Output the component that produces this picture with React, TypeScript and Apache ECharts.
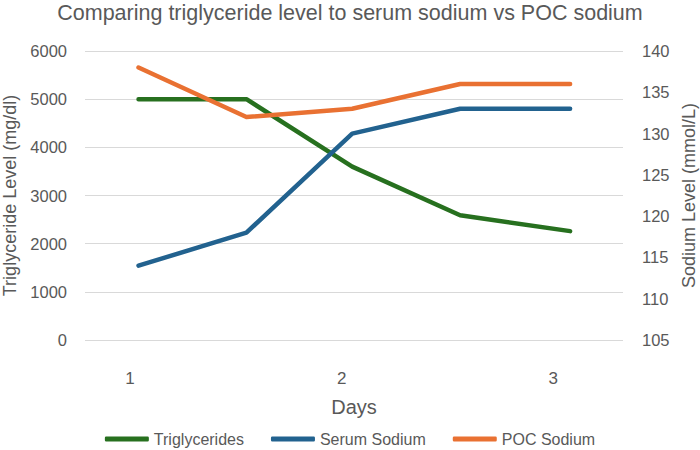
import React, { useEffect, useRef } from "react";
import * as echarts from "echarts";

const days = [1.04, 1.55, 2.05, 2.56, 3.08];
const triglycerides = [5000, 5000, 3600, 2590, 2260];
const serumSodium = [114, 118, 130, 133, 133];
const pocSodium = [138, 132, 133, 136, 136];
const dayTicks = [1, 2, 3];

const FONT = "Liberation Sans";
const GREY = "#595959";

export default function App() {
  const ref = useRef<HTMLDivElement>(null);
  useEffect(() => {
    if (!ref.current) return;
    const chart = echarts.init(ref.current, undefined, { renderer: "svg" });
    const pts = (ys: number[]) => days.map((d, i) => [d, ys[i]]);
    chart.setOption({
      animation: false,
      backgroundColor: "#ffffff",
      textStyle: { fontFamily: FONT },
      title: {
        text: "Comparing triglyceride level to serum sodium vs POC sodium",
        left: "center",
        top: -3,
        textStyle: { fontFamily: FONT, fontSize: 21.5, fontWeight: "normal", color: GREY },
      },
      grid: { left: 85, right: 77, top: 51, bottom: 110, containLabel: false, outerBoundsMode: "none" },
      legend: {
        bottom: 3,
        padding: 0,
        left: "center",
        itemWidth: 44,
        itemHeight: 5,
        itemGap: 27,
        textStyle: { fontFamily: FONT, fontSize: 16, color: GREY },
        data: [
          { name: "Triglycerides", icon: "roundRect" },
          { name: "Serum Sodium", icon: "roundRect" },
          { name: "POC Sodium", icon: "roundRect" },
        ],
      },
      xAxis: {
        type: "value",
        min: 0.787,
        max: 3.33,
        name: "Days",
        nameLocation: "middle",
        nameGap: 57,
        nameTextStyle: { fontFamily: FONT, fontSize: 20, color: GREY },
        axisLine: { show: false },
        axisTick: { show: false },
        splitLine: { show: false },
        axisLabel: {
          customValues: dayTicks,
          margin: 30,
          fontFamily: FONT,
          fontSize: 17,
          color: GREY,
        },
      },
      yAxis: [
        {
          type: "value",
          min: 0,
          max: 6000,
          interval: 1000,
          name: "Triglyceride Level (mg/dl)",
          nameLocation: "middle",
          nameRotate: 90,
          nameGap: 62,
          nameTextStyle: { fontFamily: FONT, fontSize: 18, color: GREY },
          axisLine: { show: false },
          axisTick: { show: false },
          splitLine: { lineStyle: { color: "#D9D9D9", width: 1 } },
          axisLabel: {
            margin: 18,
            fontFamily: FONT,
            fontSize: 16.5,
            color: GREY,
            formatter: (v: number) => String(v),
          },
        },
        {
          type: "value",
          min: 105,
          max: 140,
          interval: 5,
          position: "right",
          name: "Sodium Level (mmol/L)",
          nameLocation: "middle",
          nameRotate: 90,
          nameGap: 57,
          nameTextStyle: { fontFamily: FONT, fontSize: 18, color: GREY },
          axisLine: { show: false },
          axisTick: { show: false },
          splitLine: { show: false },
          axisLabel: {
            margin: 19,
            fontFamily: FONT,
            fontSize: 16.5,
            color: GREY,
            formatter: (v: number) => String(v),
          },
        },
      ],
      series: [
        {
          name: "Triglycerides",
          type: "line",
          yAxisIndex: 0,
          data: pts(triglycerides),
          symbol: "none",
          color: "#27701F",
          lineStyle: { width: 4.5, color: "#27701F", cap: "round", join: "round" },
        },
        {
          name: "Serum Sodium",
          type: "line",
          yAxisIndex: 1,
          data: pts(serumSodium),
          symbol: "none",
          color: "#22628F",
          lineStyle: { width: 4.5, color: "#22628F", cap: "round", join: "round" },
        },
        {
          name: "POC Sodium",
          type: "line",
          yAxisIndex: 1,
          data: pts(pocSodium),
          symbol: "none",
          color: "#E97132",
          lineStyle: { width: 4.5, color: "#E97132", cap: "round", join: "round" },
        },
      ],
    });
    return () => chart.dispose();
  }, []);
  return (
    <div
      ref={ref}
      style={{ position: "fixed", left: 0, top: 0, width: 700, height: 450 }}
    />
  );
}
